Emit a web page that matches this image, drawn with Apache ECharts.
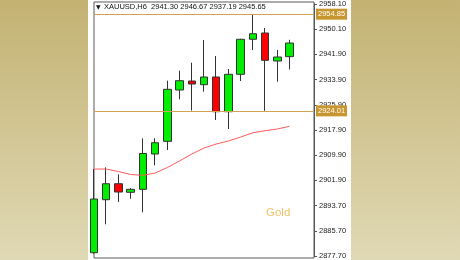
<!DOCTYPE html>
<html><head><meta charset="utf-8">
<script src="https://cdn.jsdelivr.net/npm/echarts@6/dist/echarts.min.js"></script>
<style>html,body{margin:0;padding:0;background:#fff}#c{width:460px;height:260px}</style>
</head><body><div id="c"></div>
<script>
const symbol = 'XAUUSD';
const timeframe = 'H6';
const categories = ['B1','B2','B3','B4','B5','B6','B7','B8','B9','B10','B11','B12','B13','B14','B15','B16','B17','B18','B19'];
const opens  = [2878.74, 2895.66, 2900.76, 2898.02, 2898.97, 2910.24, 2914.29, 2930.66, 2933.53, 2932.35, 2934.81, 2923.73, 2935.67, 2946.84, 2948.85, 2939.91, 2941.30];
const closes = [2895.88, 2900.76, 2898.11, 2898.97, 2910.40, 2913.84, 2930.88, 2933.63, 2932.57, 2934.81, 2923.73, 2935.67, 2946.84, 2948.62, 2940.14, 2941.19, 2945.65];
const lows   = [2878.50, 2887.81, 2894.92, 2895.97, 2891.64, 2906.63, 2911.51, 2927.69, 2924.10, 2930.12, 2921.09, 2918.22, 2933.53, 2943.42, 2924.01, 2933.31, 2937.19];
const highs  = [2905.45, 2906.00, 2903.76, 2899.39, 2915.25, 2915.25, 2933.63, 2936.82, 2939.37, 2946.61, 2941.51, 2937.36, 2947.00, 2954.85, 2950.44, 2943.42, 2946.67];
const maValues = [2905.45, 2905.45, 2904.65, 2903.70, 2903.44, 2904.18, 2905.93, 2908.00, 2910.24, 2912.15, 2913.43, 2914.39, 2915.66, 2917.03, 2917.67, 2918.22, 2919.08];
const yTickLabels = ['2877.70','2885.70','2893.70','2901.90','2909.90','2917.90','2925.90','2933.90','2941.90','2950.10','2958.10'];
const priceMin = 2877.70, priceMax = 2958.10;
const levelUpper = 2954.85, levelLower = 2924.01;
const watermark = 'Gold';

const candleData = opens.map((o, i) => [o, closes[i], lows[i], highs[i]]);
const last = opens.length - 1;
const header = symbol + ',' + timeframe + '  ' + [opens[last], highs[last], lows[last], closes[last]].map(v => v.toFixed(2)).join(' ');
const font = 'Liberation Sans';

function tag(value, bg) {
  return {
    show: true, position: 'end', distance: 2,
    formatter: () => value.toFixed(2),
    color: '#fff', backgroundColor: bg, padding: [2, 2, 1, 2],
    fontSize: 7.5, fontFamily: font
  };
}

const chart = echarts.init(document.getElementById('c'), null, {renderer: 'canvas'});
chart.setOption({
  animation: false,
  graphic: [
    {type: 'rect', z: -100, silent: true, shape: {x: 0, y: 0, width: 460, height: 260},
     style: {fill: new echarts.graphic.LinearGradient(0, 0, 0, 1, [{offset: 0, color: '#c3b272'}, {offset: 1, color: '#e0d9b5'}])}},
    {type: 'rect', z: -99, silent: true, shape: {x: 88, y: 0, width: 263, height: 260}, style: {fill: '#ffffff'}},
    {type: 'text', z: 10, left: 96, top: 4, style: {text: '▼', fontSize: 6, fill: '#111', fontFamily: 'DejaVu Sans'}},
    {type: 'text', z: 10, left: 104, top: 3, style: {text: header, fontSize: 7.5, fill: '#111', fontFamily: font}},
    {type: 'text', z: 10, left: 266, top: 207, style: {text: watermark, fontSize: 11.5, fill: '#f2c266', fontFamily: font}}
  ],
  grid: [
    {left: 94, top: 2, width: 220, height: 256, show: true, borderColor: '#5a5a5a', borderWidth: 1, backgroundColor: 'transparent'},
    {left: 94, top: 4, width: 220, height: 253}
  ],
  xAxis: [
    {gridIndex: 0, type: 'value', show: false},
    {gridIndex: 1, type: 'category', data: categories, boundaryGap: false, show: false}
  ],
  yAxis: [
    {gridIndex: 0, type: 'value', show: false},
    {gridIndex: 1, type: 'value', min: priceMin, max: priceMax, show: false},
    {gridIndex: 1, type: 'value', min: 0, max: yTickLabels.length - 1, interval: 1, position: 'right',
     axisLine: {show: true, lineStyle: {color: '#555'}},
     axisTick: {show: true, length: 3, lineStyle: {color: '#555'}},
     splitLine: {show: false},
     axisLabel: {margin: 5, fontSize: 7.5, color: '#222', fontFamily: font, formatter: v => yTickLabels[Math.round(v)]}}
  ],
  series: [
    {
      type: 'candlestick', xAxisIndex: 1, yAxisIndex: 1, data: candleData, barWidth: 8, clip: true, z: 2,
      itemStyle: {color: '#00ee00', color0: '#ff0000', borderColor: '#333', borderColor0: '#333', borderWidth: 1},
      markLine: {
        symbol: 'none', silent: true, animation: false,
        data: [
          {yAxis: levelUpper, lineStyle: {color: '#cfa555', width: 1, type: 'solid'}, label: tag(levelUpper, '#c8962e')},
          {yAxis: levelLower, lineStyle: {color: '#cfa555', width: 1, type: 'solid'}, label: tag(levelLower, '#c8962e')},
          {yAxis: closes[last], lineStyle: {opacity: 0, width: 0}, label: tag(closes[last], '#000')}
        ]
      }
    },
    {
      type: 'line', xAxisIndex: 1, yAxisIndex: 1, data: maValues, symbol: 'none', z: 3,
      lineStyle: {color: '#ff5c5c', width: 1}
    }
  ]
});
</script>
</body></html>
